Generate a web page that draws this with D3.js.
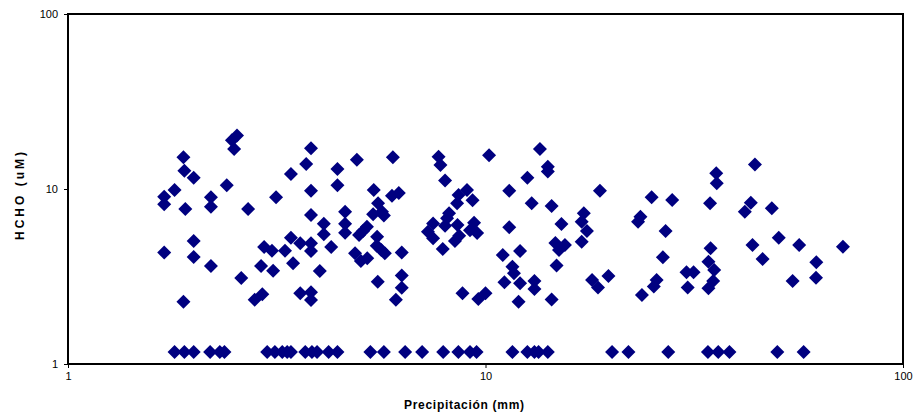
<!DOCTYPE html>
<html>
<head>
<meta charset="utf-8">
<script src="https://cdn.jsdelivr.net/npm/d3@7/dist/d3.min.js"></script>
<style>
  body { margin: 0; background: #fff; }
  text { font-family: "Liberation Sans", Arial, sans-serif; fill: #000; }
</style>
</head>
<body>
<svg id="chart" width="914" height="416"></svg>
<script>
// precipitación (mm) y HCHO (uM) de cada muestra
const precipitacion = [
  1.70, 1.70, 1.80, 1.89, 1.90, 2.00, 1.91, 2.20, 2.20, 2.40, 2.47, 2.54, 2.50, 2.70, 3.15,
  1.70, 2.00, 2.00, 2.20, 2.60, 2.95, 3.08, 2.90, 3.10, 3.31, 1.89, 2.80, 2.92,
  3.82, 3.72, 3.42, 4.42, 4.92, 6.00, 3.82, 4.42, 5.40, 5.97, 6.20, 5.53, 4.61, 3.82,
  5.38, 5.65, 5.71, 4.10, 4.61, 4.61, 4.10, 5.20, 5.09, 4.98, 5.50, 3.42, 3.60, 3.82,
  3.82, 4.27, 5.49, 5.63, 5.74, 6.30, 4.87, 5.03, 5.21, 3.46, 4.01, 5.52, 6.30, 6.30,
  3.60, 3.82, 3.82, 6.10,
  7.72, 7.80, 10.2, 13.5, 14.1, 14.1, 8.00, 12.6, 11.4, 9.03, 8.62, 8.55, 9.31, 12.9,
  14.4, 8.18, 8.09, 7.49, 7.28, 7.49, 8.00, 8.57, 8.65, 8.45, 9.39, 9.18, 9.55, 7.90,
  11.4, 11.0, 12.1, 11.6, 11.7, 11.1, 12.1, 13.1, 13.1, 8.81, 9.61, 10.0, 12.0, 14.4,
  14.8, 14.7, 15.0, 15.5, 15.2,
  18.8, 25.0, 28.0, 17.2, 17.0, 17.5, 17.0, 23.5, 23.2, 27.0, 26.6, 18.0, 18.6, 19.7,
  25.7, 25.3, 23.7, 30.3, 31.5, 30.5,
  44.2, 35.7, 35.8, 34.5, 43.2, 41.8, 48.5, 50.4, 43.6, 56.4, 71.8, 34.6, 46.1, 34.2,
  35.3, 35.1, 34.2, 62.0, 61.9, 54.4
];
const hcho = [
  9.04, 8.18, 9.87, 15.2, 12.7, 11.6, 7.69, 8.97, 7.92, 10.5, 19.0, 20.2, 16.9, 7.69, 8.97,
  4.33, 5.04, 4.09, 3.63, 3.10, 4.66, 4.44, 3.63, 3.41, 4.44, 2.27, 2.33, 2.50,
  17.1, 13.9, 12.2, 13.0, 14.7, 15.2, 9.78, 10.5, 9.87, 9.16, 9.49, 8.28, 7.42, 7.10,
  7.17, 7.42, 7.05, 6.33, 6.33, 5.63, 5.51, 6.09, 5.75, 5.46, 5.34, 5.27, 4.89, 4.89,
  4.42, 4.66, 4.74, 4.48, 4.29, 4.33, 4.29, 3.88, 4.02, 3.76, 3.40, 2.95, 3.20, 2.73,
  2.54, 2.57, 2.32, 2.33,
  15.3, 13.7, 15.6, 16.9, 13.4, 12.6, 11.2, 11.6, 9.78, 9.87, 9.24, 8.28, 8.62, 8.28,
  8.00, 7.26, 6.80, 6.36, 5.70, 5.23, 6.17, 6.23, 5.41, 5.04, 6.42, 5.81, 5.61, 4.54,
  6.04, 4.20, 4.42, 3.60, 3.30, 2.93, 2.89, 2.98, 2.68, 2.54, 2.35, 2.54, 2.27, 2.34,
  3.65, 4.91, 4.48, 4.79, 6.31,
  9.78, 8.97, 8.65, 7.26, 6.50, 5.75, 5.00, 6.95, 6.50, 5.75, 4.07, 3.02, 2.74, 3.18,
  3.02, 2.77, 2.48, 3.34, 3.34, 2.74,
  13.8, 12.3, 10.8, 8.28, 8.35, 7.42, 7.76, 5.27, 4.79, 4.79, 4.68, 4.58, 3.98, 3.84,
  3.44, 2.98, 2.71, 3.81, 3.11, 2.98
];
// muestras bajo el límite de detección
const precipBajoLD = [
  1.80, 1.90, 2.00, 2.19, 2.31, 2.37, 3.00, 3.13, 3.26, 3.35, 3.42, 3.70, 3.84, 3.95,
  4.21, 4.42, 5.30, 5.71, 6.42, 7.05, 7.92, 8.61, 9.18, 9.52, 11.6, 12.6, 13.1, 13.4,
  14.1, 20.1, 22.0, 27.4, 34.1, 36.1, 38.4, 50.0, 57.8
];
const hchoBajoLD = 1.17;
const ticks = [1, 10, 100];

const svg = d3.select('#chart');
const margin = {top: 14, right: 11, bottom: 52, left: 68};
const width = 914 - margin.left - margin.right;
const height = 416 - margin.top - margin.bottom;

const g = svg.append('g').attr('transform', `translate(${margin.left},${margin.top})`);

const x = d3.scaleLog().domain([1, 100]).range([0, width]);
const y = d3.scaleLog().domain([1, 100]).range([height, 0]);

const data = precipitacion.map((p, i) => ({p, h: hcho[i]}))
  .concat(precipBajoLD.map(p => ({p, h: hchoBajoLD})));

// ejes
const xAxis = g.append('g')
  .attr('transform', `translate(0,${height})`)
  .call(d3.axisBottom(x).tickValues(ticks).tickFormat(d3.format('d')).tickSizeOuter(0).tickSize(4).tickPadding(4));
const yAxis = g.append('g')
  .call(d3.axisLeft(y).tickValues(ticks).tickFormat(d3.format('d')).tickSizeOuter(0).tickSize(4).tickPadding(6));
[xAxis, yAxis].forEach(a => {
  a.select('.domain').remove();
  a.selectAll('text').style('font-family', '"Liberation Sans", Arial, sans-serif').style('font-size', '11px').attr('fill', '#000');
  a.selectAll('line').attr('stroke', '#000');
});

// puntos
const diamond = 'M0,-7L7,0L0,7L-7,0Z';
g.selectAll('.pt')
  .data(data)
  .enter().append('path')
  .attr('class', 'pt')
  .attr('d', diamond)
  .attr('transform', d => `translate(${x(d.p)},${y(d.h)})`)
  .attr('fill', '#000080');

// marco del área de trazado
g.append('rect')
  .attr('width', width).attr('height', height)
  .attr('fill', 'none').attr('stroke', '#000').attr('stroke-width', 2);

// títulos (el original tiene letras algo espaciadas)
svg.append('text')
  .attr('x', 464).attr('y', 409)
  .attr('text-anchor', 'middle')
  .attr('textLength', 120).attr('lengthAdjust', 'spacing')
  .style('font-size', '12px').style('font-weight', 'bold')
  .text('Precipitación (mm)');
svg.append('text')
  .attr('transform', 'translate(24,196) rotate(-90)')
  .attr('text-anchor', 'middle')
  .attr('textLength', 88).attr('lengthAdjust', 'spacing')
  .style('font-size', '12px').style('font-weight', 'bold')
  .text('HCHO (uM)');
</script>
</body>
</html>
